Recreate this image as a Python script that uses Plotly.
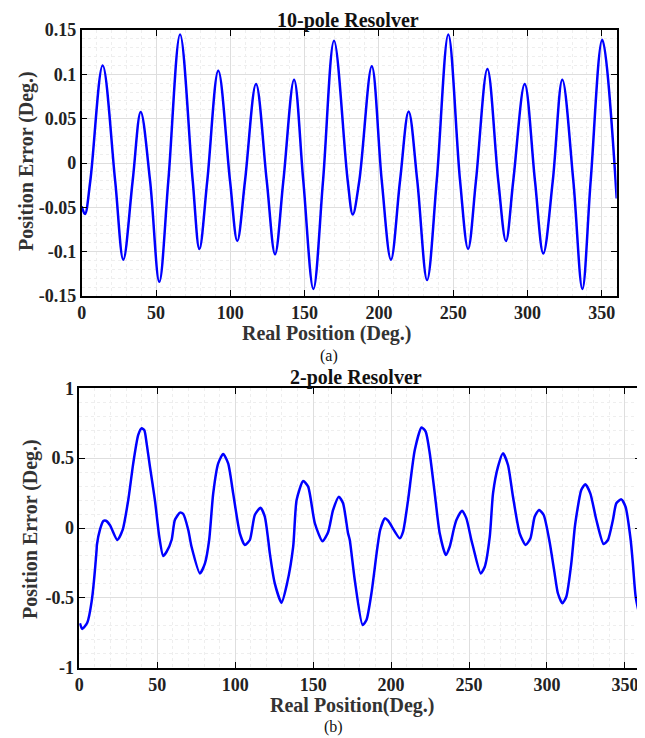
import plotly.graph_objects as go

# ---- (a) 10-pole resolver: points ----
pos10 = [0, 2.2, 5.8, 14.1, 22.5, 28.0, 34.3, 39.7, 46.0, 52.2, 58.3, 66.2, 74.7, 79.2, 84.5,
         91.9, 99.8, 104.7, 109.9, 117.3, 124.5, 130.1, 135.7, 142.9, 149.1, 155.9, 162.4,
         169.8, 179.0, 182.4, 186.8, 195.2, 201.9, 208.1, 214.2, 220.0, 225.8, 232.4, 238.9,
         246.7, 254.6, 260.0, 265.3, 273.0, 280.3, 285.5, 290.4, 298.1, 305.0, 310.6, 317.0,
         323.4, 330.8, 336.9, 342.5, 350.3, 360]
err10 = [-0.049, -0.0575, -0.02, 0.110, -0.02, -0.109, -0.02, 0.0575, -0.02, -0.134, -0.02, 0.145,
         -0.02, -0.097, -0.02, 0.104, -0.02, -0.088, -0.02, 0.089, -0.02, -0.103, -0.02, 0.094,
         -0.02, -0.142, -0.02, 0.138, -0.02, -0.058, -0.02, 0.109, -0.02, -0.109, -0.02, 0.058,
         -0.02, -0.132, -0.02, 0.145, -0.02, -0.097, -0.02, 0.106, -0.02, -0.088, -0.02, 0.089,
         -0.02, -0.102, -0.02, 0.094, -0.02, -0.142, -0.02, 0.139, -0.04]

# ---- (b) 2-pole resolver: points ----
pos2 = [0.4, 1.9, 5.1, 7.9, 11.1, 11.3, 13.3, 15.4, 17.1, 19.7, 24.4, 27.8, 31.4, 34.6, 37.8,
        40.0, 41.7, 43.2, 45.3, 48.5, 51.3, 53.8, 56.0, 59.2, 61.3, 64.6, 66.7, 69.9, 72.0,
        77.4, 80.6, 83.3, 85.9, 89.1, 92.3, 95.5, 98.7, 103.0, 106.2, 109.4, 112.6, 116.3,
        119.0, 121.2, 122.2, 125.4, 129.7, 133.3, 137.2, 139.4, 143.6, 146.8, 151.1, 156.0,
        159.6, 162.8, 166.5, 169.2, 172.4, 173.5, 176.7, 181.7, 184.2, 187.4, 191.0, 193.0,
        196.0, 198.1, 205.6, 207.7, 210.9, 215.2, 219.5, 222.2, 224.8, 228.0, 231.2, 235.1,
        237.6, 240.4, 241.9, 245.5, 248.3, 251.5, 252.6, 257.5, 260.1, 263.3, 265.4, 268.6,
        271.8, 275.0, 278.2, 282.5, 286.3, 289.4, 292.1, 294.9, 297.9, 301.7, 304.9, 307.0,
        309.9, 312.4, 315.6, 317.8, 318.8, 322.0, 324.6, 327.8, 331.7, 336.3, 339.1, 342.3,
        344.5, 347.7, 350.4, 353.7, 355.1, 356.9, 360.0]
err2 = [-0.682, -0.723, -0.678, -0.527, -0.157, -0.12, -0.01, 0.05, 0.052, 0.02, -0.086, -0.014,
        0.2, 0.463, 0.666, 0.714, 0.70, 0.606, 0.44, 0.2, -0.062, -0.2, -0.17, -0.086, 0.057,
        0.11, 0.10, -0.014, -0.134, -0.325, -0.253, -0.086, 0.248, 0.463, 0.53, 0.463, 0.248,
        -0.038, -0.122, -0.086, 0.093, 0.145, 0.081, -0.086, -0.18, -0.396, -0.535, -0.396,
        -0.134, 0.2, 0.336, 0.296, 0.034, -0.095, -0.03, 0.129, 0.224, 0.177, -0.038, -0.086,
        -0.372, -0.694, -0.659, -0.467, -0.157, -0.014, 0.069, 0.052, -0.074, -0.026, 0.2,
        0.558, 0.72, 0.69, 0.535, 0.248, -0.038, -0.193, -0.134, 0.0, 0.057, 0.124, 0.069,
        -0.086, -0.134, -0.325, -0.277, -0.062, 0.248, 0.439, 0.535, 0.451, 0.224, -0.038,
        -0.122, -0.074, 0.081, 0.129, 0.093, -0.10, -0.325, -0.467, -0.539, -0.492, -0.253,
        0.0, 0.081, 0.272, 0.313, 0.248, 0.057, -0.115, -0.086, 0.057, 0.177, 0.205, 0.152,
        -0.086, -0.253, -0.492, -0.66]

xtickvals = [0, 50, 100, 150, 200, 250, 300, 350]
xticktext = ["0", "50", "100", "150", "200", "250", "300", "350"]
y1tickvals = [-0.15, -0.1, -0.05, 0, 0.05, 0.1, 0.15]
y1ticktext = ["-0.15", "-0.1", "-0.05", "0", "0.05", "0.1", "0.15"]
y2tickvals = [-1, -0.5, 0, 0.5, 1]
y2ticktext = ["-1", "-0.5", "0", "0.5", "1"]

OFF = 8  # page body margin of the html page
W, H = 645 - OFF, 738 - OFF
FONT = "Liberation Serif"
BLUE = "#0000ff"

fig = go.Figure()
fig.add_trace(go.Scatter(x=pos10, y=err10, mode="lines", xaxis="x", yaxis="y",
                         line=dict(color=BLUE, width=2.5, shape="spline", smoothing=1.0),
                         showlegend=False))
fig.add_trace(go.Scatter(x=pos2, y=err2, mode="lines", xaxis="x2", yaxis="y2",
                         line=dict(color=BLUE, width=2.5, shape="spline", smoothing=0.6),
                         showlegend=False))

def px(x):
    return (x - OFF) / W

def py(y):
    return 1 - (y - OFF) / H

common = dict(
    showline=True, linecolor="black", linewidth=1.5, mirror="ticks",
    ticks="inside", ticklen=6, tickwidth=1.2, tickcolor="black",
    showgrid=True, gridcolor="#dedede", gridwidth=1, zeroline=False,
    automargin=False,
    tickfont=dict(family=FONT, size=18, color="#222222", weight="bold"),
)

fig.update_layout(
    width=W, height=H, margin=dict(l=0, r=0, t=0, b=0, autoexpand=False),
    paper_bgcolor="white", plot_bgcolor="white",
    xaxis=dict(domain=[px(81.7), px(616.7)], range=[0, 360], anchor="y",
               tickvals=xtickvals, ticktext=xticktext,
               minor=dict(dtick=10, showgrid=True, gridcolor="#eeeeee", griddash="dot", ticks=""),
               **common),
    yaxis=dict(domain=[py(296), py(30)], range=[-0.15, 0.15], anchor="x",
               tickvals=y1tickvals, ticktext=y1ticktext,
               minor=dict(dtick=0.01, showgrid=True, gridcolor="#eeeeee", griddash="dot", ticks=""),
               **common),
    xaxis2=dict(domain=[px(79.3), px(640.5)], range=[0, 360], anchor="y2",
                tickvals=xtickvals, ticktext=xticktext,
                minor=dict(dtick=10, showgrid=True, gridcolor="#eeeeee", griddash="dot", ticks=""),
                **common),
    yaxis2=dict(domain=[py(667.7), py(388.3)], range=[-1, 1], anchor="x2",
                tickvals=y2tickvals, ticktext=y2ticktext,
                minor=dict(dtick=0.1, showgrid=True, gridcolor="#eeeeee", griddash="dot", ticks=""),
                **common),
)

def ann(text, x, y, size, bold=True, angle=0, color="#111111", yanchor="middle"):
    fig.add_annotation(text=f"<b>{text}</b>" if bold else text,
                       x=px(x), y=py(y), xref="paper", yref="paper",
                       xanchor="center", yanchor=yanchor, showarrow=False,
                       textangle=angle, borderpad=0,
                       font=dict(family=FONT, size=size, color=color))

ann("10-pole Resolver", 348, 8, 20, yanchor="top")
ann("Real Position (Deg.)", 327, 333, 20, color="#333333")
ann("(a)", 329, 356, 16, bold=False)
ann("Position Error (Deg.)", 27, 161, 20, angle=-90, color="#333333")

ann("2-pole Resolver", 356, 377, 20)
ann("Real Position(Deg.)", 352, 705, 20, color="#333333")
ann("(b)", 333, 727, 16, bold=False)
ann("Position Error (Deg.)", 30, 529, 20, angle=-90, color="#333333")

fig.write_html("out.html")
